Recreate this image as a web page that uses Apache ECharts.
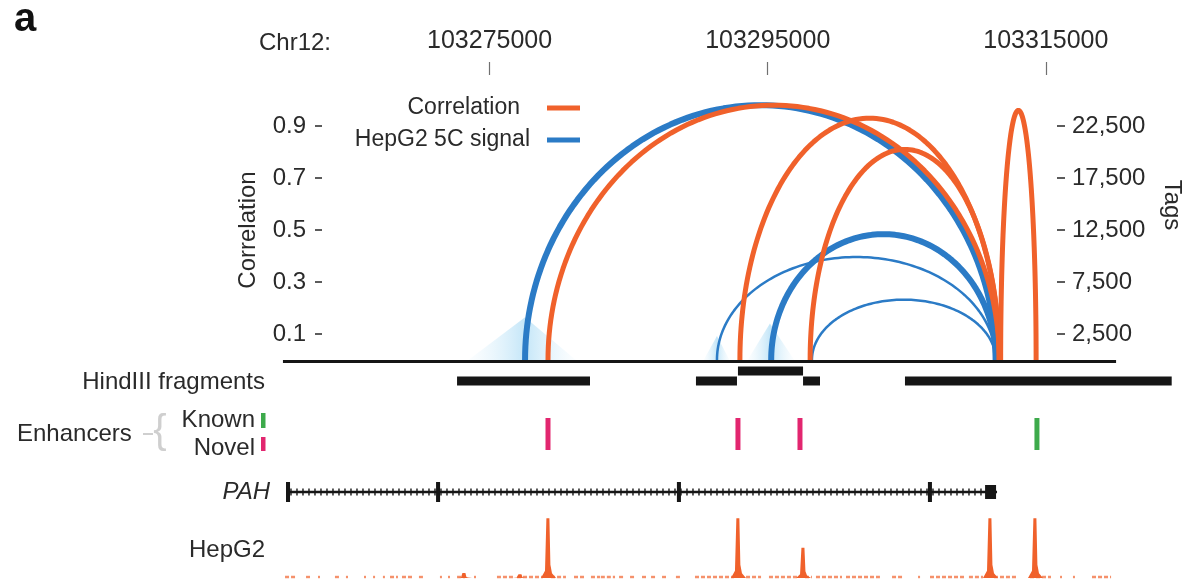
<!DOCTYPE html>
<html><head><meta charset="utf-8">
<script src="https://cdn.jsdelivr.net/npm/echarts@6/dist/echarts.min.js"></script>
<style>html,body{margin:0;padding:0;background:#fff}#c{width:1194px;height:584px}</style>
</head><body><div id="c"></div>
<script>
// ================= DATA =================
const coordTicks = [103275000, 103295000, 103315000];
const corrTicks = [0.1, 0.3, 0.5, 0.7, 0.9];
const tagTicks = [2500, 7500, 12500, 17500, 22500];
const seriesNames = ['Correlation', 'HepG2 5C signal'];
// correlation arcs: [start, end, correlation]
const corrArcs = [
  [103279200, 103311650, 0.98],
  [103293000, 103311650, 0.93],
  [103298050, 103311650, 0.81],
  [103311750, 103314300, 0.96]
];
// 5C arcs: [start, end, tags]
const tagArcs = [
  [103277550, 103311400, 24500],
  [103291350, 103311400, 9900],
  [103298180, 103311400, 5800],
  [103295250, 103311400, 12100]
];
// light 5C cones: [left, apex, right, tags]
const cones = [
  [103273380, 103277550, 103281290, 4100],
  [103290350, 103291350, 103292290, 2300],
  [103293510, 103295160, 103296960, 3500]
];
const baselineSpan = [[103260140, 103320050]];
// HindIII fragments: [start, end, row]
const fragments = [
  [103272660, 103282220, 0],
  [103289840, 103292790, 0],
  [103292860, 103297540, 1],
  [103297540, 103298760, 0],
  [103304870, 103324050, 0]
];
const novelEnhancers = [103279200, 103292860, 103297320];
const knownEnhancers = [103314360];
const geneName = 'PAH';
const geneSpan = [[103260430, 103311490]];
const exons = [
  [103260360, 103260650], [103271150, 103271440], [103288470, 103288760],
  [103306520, 103306810], [103310630, 103311420]
];
// HepG2 signal peaks: [position, relative height]
const hepg2Peaks = [
  [103279200, 0.95], [103292860, 0.95], [103297540, 0.48],
  [103310985, 0.95], [103314220, 0.95], [103273160, 0.08], [103277190, 0.06]
];
// HepG2 low-level signal stretches: [start, end]
const hepg2Low = [
  [103260290,103261010],[103261800,103262230],[103262660,103262800],[103263880,103264310],
  [103264670,103264820],[103265970,103266110],[103266620,103266760],[103267330,103267470],
  [103267840,103268410],[103268700,103269490],[103269920,103270210],[103271430,103271570],
  [103272010,103272150],[103272660,103273230],[103273880,103274020],[103275530,103276680],
  [103276970,103278840],[103279420,103280490],[103281070,103281930],[103282290,103282940],
  [103283000,103284020],[103284310,103284740],[103285100,103285530],[103285960,103286320],
  [103286610,103287040],[103287400,103287830],[103288400,103288690],[103289770,103292580],
  [103293440,103294520],[103295090,103297110],[103297680,103298180],[103298470,103300340],
  [103300630,103303070],[103303940,103304730],[103305810,103305950],[103306670,103309120],
  [103309470,103310480],[103311270,103312930],[103313860,103315370],[103316020,103316160],
  [103316950,103317090],[103318320,103319690]
];

// ================= STYLE / LAYOUT =================
const FONT = '"Liberation Sans", Arial, Helvetica, sans-serif';
const TEXT = '#2a2a2a';
const ORANGE = '#F0612B', BLUE = '#2B7BC6', PINK = '#E2266F', GREEN = '#3DAA4B', INK = '#161616';
const X_MIN = 103260000, X_MAX = 103324000;
const ARC_TOP = 75, ARC_H = 285;
const CORR_PX = 260, TAG_PX = 0.0104;
const corrWidths = [5, 5, 5, 5];
const tagWidths = [6, 2.5, 2.5, 6];
const FRAG_Y = [381, 371], FRAG_H = 9;
const ENH_Y0 = 418, ENH_Y1 = 450;
const GENE_Y = 492;

function arcRender(widths, color) {
  return function (params, api) {
    const s = api.value(0), e = api.value(1), h = api.value(2);
    const pts = [];
    const N = 120;
    for (let i = 0; i <= N; i++) {
      const t = Math.PI * i / N;
      pts.push(api.coord([s + (e - s) * (1 - Math.cos(t)) / 2, h * Math.sin(t)]));
    }
    return { type: 'polyline', shape: { points: pts },
      style: { stroke: color, lineWidth: widths[params.dataIndex], fill: null, lineJoin: 'round' } };
  };
}

const T = (x, y, text, o = {}) => ({
  type: 'text', x, y, rotation: o.rot || 0, z: 10,
  style: { text, fill: o.color || TEXT,
    font: `${o.style || 'normal'} ${o.weight || 'normal'} ${o.size || 24}px ${FONT}`,
    align: o.align || 'left', verticalAlign: 'middle' }
});

const option = {
  animation: false,
  backgroundColor: '#fff',
  textStyle: { fontFamily: FONT },
  grid: [
    { left: 281, width: 890, top: ARC_TOP, height: ARC_H },
    { left: 281, width: 890, top: 515, height: 63 }
  ],
  xAxis: [
    { type: 'value', gridIndex: 0, position: 'top', min: X_MIN, max: X_MAX,
      axisLine: { show: false, onZero: false }, splitLine: { show: false },
      axisTick: { show: true, customValues: coordTicks, length: 13, lineStyle: { color: '#707070', width: 1.2 } },
      axisLabel: { customValues: coordTicks, margin: 21, fontSize: 25, color: TEXT, fontFamily: FONT,
        formatter: v => String(v) } },
    { type: 'value', gridIndex: 1, min: X_MIN, max: X_MAX, show: false }
  ],
  yAxis: [
    { type: 'value', gridIndex: 0, position: 'left', offset: -41, min: 0, max: ARC_H / CORR_PX,
      axisLine: { show: false, onZero: false }, splitLine: { show: false },
      axisTick: { show: true, customValues: corrTicks, length: 7, lineStyle: { color: '#333', width: 1.6 } },
      axisLabel: { customValues: corrTicks, margin: 16, fontSize: 24, color: TEXT, fontFamily: FONT,
        formatter: v => v.toFixed(1) } },
    { type: 'value', gridIndex: 0, position: 'right', offset: -114, min: 0, max: ARC_H / TAG_PX,
      axisLine: { show: false, onZero: false }, splitLine: { show: false },
      axisTick: { show: true, customValues: tagTicks, length: 8, lineStyle: { color: '#333', width: 1.6 } },
      axisLabel: { customValues: tagTicks, margin: 15, fontSize: 24, color: TEXT, fontFamily: FONT,
        formatter: v => v.toLocaleString('en-US') } },
    { type: 'value', gridIndex: 1, min: 0, max: 1, show: false }
  ],
  graphic: [
    T(14, 20, 'a', { weight: 'bold', size: 40, color: '#111' }),
    T(331, 43, 'Chr12:', { align: 'right' }),
    T(248, 230, 'Correlation', { rot: Math.PI / 2, align: 'center' }),
    T(1172, 205, 'Tags', { rot: -Math.PI / 2, align: 'center' }),
    T(520, 108, seriesNames[0], { align: 'right', size: 23 }),
    T(530, 140, seriesNames[1], { align: 'right', size: 23 }),
    { type: 'rect', shape: { x: 547, y: 105.5, width: 33, height: 5 }, style: { fill: ORANGE } },
    { type: 'rect', shape: { x: 547, y: 137.5, width: 33, height: 5 }, style: { fill: BLUE } },
    T(265, 382, 'HindIII fragments', { align: 'right' }),
    T(17, 434, 'Enhancers'),
    T(160, 432, '{', { color: '#cfcfcf', size: 40, align: 'center' }),
    { type: 'line', shape: { x1: 143, y1: 434, x2: 153, y2: 434 }, style: { stroke: '#cfcfcf', lineWidth: 2 } },
    T(255, 420, 'Known', { align: 'right' }),
    T(255, 448, 'Novel', { align: 'right' }),
    { type: 'rect', shape: { x: 261, y: 413, width: 4.5, height: 15 }, style: { fill: GREEN } },
    { type: 'rect', shape: { x: 261, y: 437, width: 4.5, height: 14 }, style: { fill: PINK } },
    T(270, 492, geneName, { align: 'right', style: 'italic' }),
    T(265, 550, 'HepG2', { align: 'right' })
  ],
  series: [
    { type: 'custom', name: 'cones', xAxisIndex: 0, yAxisIndex: 1, data: cones, z: 1,
      encode: { x: [0, 1, 2], y: 3 },
      renderItem: (params, api) => {
        const l = api.coord([api.value(0), 0]), a = api.coord([api.value(1), api.value(3)]), r = api.coord([api.value(2), 0]);
        const k = (a[0] - l[0]) / (r[0] - l[0]);
        return { type: 'polygon', shape: { points: [[l[0], l[1] + 1], a, [r[0], r[1] + 1]] },
          style: { fill: new echarts.graphic.LinearGradient(0, 0, 1, 0, [
            { offset: 0, color: 'rgba(200,232,248,0.05)' },
            { offset: k, color: 'rgba(125,200,240,0.45)' },
            { offset: 1, color: 'rgba(200,232,248,0.05)' }]) } };
      } },
    { type: 'custom', name: seriesNames[1], xAxisIndex: 0, yAxisIndex: 1, data: tagArcs, z: 2,
      encode: { x: [0, 1], y: 2 }, renderItem: arcRender(tagWidths, BLUE) },
    { type: 'custom', name: seriesNames[0], xAxisIndex: 0, yAxisIndex: 0, data: corrArcs, z: 3,
      encode: { x: [0, 1], y: 2 }, renderItem: arcRender(corrWidths, ORANGE) },
    { type: 'custom', name: 'baseline', xAxisIndex: 0, yAxisIndex: 0, data: baselineSpan, z: 4,
      encode: { x: [0, 1] },
      renderItem: (params, api) => {
        const a = api.coord([api.value(0), 0]), b = api.coord([api.value(1), 0]);
        return { type: 'line', shape: { x1: a[0], y1: a[1] + 1.5, x2: b[0], y2: b[1] + 1.5 },
          style: { stroke: INK, lineWidth: 3.2 } };
      } },
    { type: 'custom', name: 'HindIII fragments', xAxisIndex: 0, yAxisIndex: 0, data: fragments, z: 4,
      encode: { x: [0, 1] },
      renderItem: (params, api) => {
        const a = api.coord([api.value(0), 0]), b = api.coord([api.value(1), 0]);
        const y = FRAG_Y[api.value(2)];
        return { type: 'rect', shape: { x: a[0], y: y - FRAG_H / 2, width: b[0] - a[0], height: FRAG_H },
          style: { fill: INK } };
      } },
    { type: 'custom', name: 'Novel', xAxisIndex: 0, yAxisIndex: 0, data: novelEnhancers.map(v => [v]), z: 4,
      encode: { x: 0 },
      renderItem: (params, api) => {
        const a = api.coord([api.value(0), 0]);
        return { type: 'rect', shape: { x: a[0] - 2.5, y: ENH_Y0, width: 5, height: ENH_Y1 - ENH_Y0 }, style: { fill: PINK } };
      } },
    { type: 'custom', name: 'Known', xAxisIndex: 0, yAxisIndex: 0, data: knownEnhancers.map(v => [v]), z: 4,
      encode: { x: 0 },
      renderItem: (params, api) => {
        const a = api.coord([api.value(0), 0]);
        return { type: 'rect', shape: { x: a[0] - 2.5, y: ENH_Y0, width: 5, height: ENH_Y1 - ENH_Y0 }, style: { fill: GREEN } };
      } },
    { type: 'custom', name: geneName, xAxisIndex: 0, yAxisIndex: 0, data: geneSpan, z: 4,
      encode: { x: [0, 1] },
      renderItem: (params, api) => {
        const a = api.coord([api.value(0), 0]), b = api.coord([api.value(1), 0]);
        const children = [{ type: 'line', shape: { x1: a[0], y1: GENE_Y, x2: b[0], y2: GENE_Y }, style: { stroke: INK, lineWidth: 2.6 } }];
        for (let x = a[0] + 4; x < b[0] - 4; x += 6) {
          children.push({ type: 'line', shape: { x1: x, y1: GENE_Y - 3.5, x2: x, y2: GENE_Y + 3.5 }, style: { stroke: INK, lineWidth: 1.4 } });
        }
        return { type: 'group', children };
      } },
    { type: 'custom', name: 'exons', xAxisIndex: 0, yAxisIndex: 0, data: exons, z: 5,
      encode: { x: [0, 1] },
      renderItem: (params, api) => {
        const a = api.coord([api.value(0), 0]), b = api.coord([api.value(1), 0]);
        const last = params.dataIndex === exons.length - 1;
        const hh = last ? 7 : 10;
        return { type: 'rect', shape: { x: a[0], y: GENE_Y - hh, width: Math.max(b[0] - a[0], 3), height: hh * 2 }, style: { fill: INK } };
      } },
    { type: 'custom', name: 'HepG2 low', xAxisIndex: 1, yAxisIndex: 2, data: hepg2Low, z: 4,
      encode: { x: [0, 1] },
      renderItem: (params, api) => {
        const a = api.coord([api.value(0), 0]), b = api.coord([api.value(1), 0]);
        return { type: 'line', shape: { x1: a[0], y1: a[1] - 1, x2: Math.max(b[0], a[0] + 2), y2: b[1] - 1 },
          style: { stroke: '#F27546', lineWidth: 2.4, lineDash: [4, 2], opacity: 0.8 } };
      } },
    { type: 'custom', name: 'HepG2', xAxisIndex: 1, yAxisIndex: 2, data: hepg2Peaks, z: 5,
      encode: { x: 0, y: 1 },
      renderItem: (params, api) => {
        const c = api.coord([api.value(0), api.value(1)]), b = api.coord([api.value(0), 0]);
        const h = b[1] - c[1];
        const pts = [[b[0] - 7, b[1]], [b[0] - 3, b[1] - h * 0.12], [b[0] - 1.6, c[1]], [b[0] + 1.4, c[1]],
          [b[0] + 2.4, b[1] - h * 0.22], [b[0] + 4, b[1] - h * 0.08], [b[0] + 8, b[1]]];
        return { type: 'polygon', shape: { points: pts }, style: { fill: ORANGE } };
      } }
  ]
};
const chart = echarts.init(document.getElementById('c'));
chart.setOption(option);
</script>
</body></html>
